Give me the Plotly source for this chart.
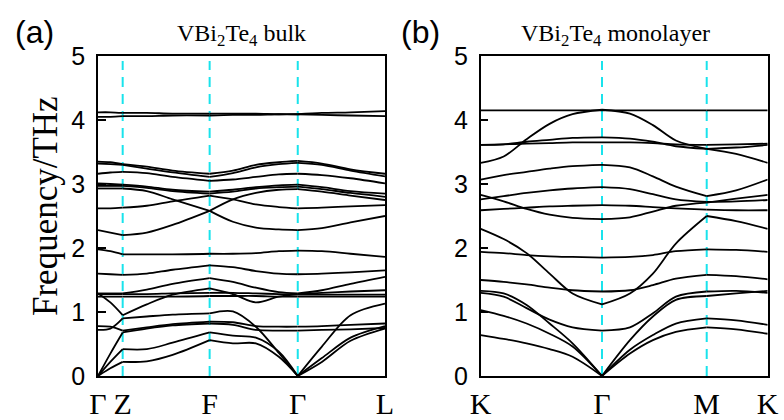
import plotly.graph_objects as go

# ---------------- data: panel (a) VBi2Te4 bulk ----------------
ka = [0, 0.043, 0.086, 0.17, 0.26, 0.389, 0.47, 0.55, 0.63, 0.696, 0.78, 0.88, 1.0]
ka_sym_idx = [0, 2, 5, 9, 12]
ka_labels = ["Γ", "Z", "F", "Γ", "L"]

bulk_V2 = [4.12, 4.12, 4.11, 4.11, 4.10, 4.10, 4.10, 4.10, 4.09, 4.09, 4.11, 4.12, 4.14]
bulk_V1 = [4.05, 4.05, 4.06, 4.06, 4.07, 4.07, 4.08, 4.08, 4.09, 4.09, 4.08, 4.07, 4.06]
bulk_W1 = [3.35, 3.34, 3.31, 3.27, 3.21, 3.16, 3.21, 3.30, 3.34, 3.36, 3.32, 3.23, 3.16]
bulk_W2 = [3.32, 3.31, 3.30, 3.24, 3.18, 3.11, 3.17, 3.26, 3.31, 3.33, 3.30, 3.21, 3.12]
bulk_W3 = [3.16, 3.18, 3.19, 3.17, 3.11, 3.05, 3.07, 3.11, 3.15, 3.16, 3.14, 3.09, 3.01]
bulk_W4 = [3.01, 3.00, 2.99, 2.96, 2.91, 2.88, 2.91, 2.95, 2.98, 2.99, 2.95, 2.89, 2.85]
bulk_W5 = [2.97, 2.97, 2.97, 2.94, 2.89, 2.85, 2.88, 2.93, 2.95, 2.96, 2.92, 2.86, 2.80]
bulk_W6 = [2.93, 2.93, 2.93, 2.89, 2.76, 2.58, 2.41, 2.32, 2.29, 2.28, 2.31, 2.40, 2.50]
bulk_W7 = [2.62, 2.62, 2.63, 2.66, 2.73, 2.82, 2.76, 2.68, 2.64, 2.62, 2.63, 2.65, 2.67]
bulk_X1 = [2.28, 2.24, 2.20, 2.24, 2.36, 2.58, 2.76, 2.86, 2.91, 2.92, 2.88, 2.82, 2.75]
bulk_L1 = [1.98, 1.95, 1.90, 1.90, 1.90, 1.91, 1.91, 1.92, 1.95, 1.96, 1.95, 1.91, 1.86]
bulk_L2 = [1.60, 1.59, 1.58, 1.60, 1.66, 1.73, 1.70, 1.64, 1.60, 1.59, 1.60, 1.62, 1.65]
bulk_T = [1.29, 1.29, 1.29, 1.35, 1.44, 1.53, 1.47, 1.38, 1.31, 1.29, 1.34, 1.44, 1.55]
bulk_U = [1.28, 1.28, 1.28, 1.28, 1.29, 1.30, 1.30, 1.29, 1.28, 1.27, 1.27, 1.27, 1.27]
bulk_Vb = [1.24, 1.24, 1.24, 1.24, 1.24, 1.25, 1.25, 1.25, 1.24, 1.24, 1.24, 1.24, 1.24]
bulk_S = [1.29, 1.15, 0.95, 1.12, 1.27, 1.37, 1.28, 1.15, 1.24, 1.28, 1.30, 1.32, 1.34]
bulk_R = [0.72, 0.74, 0.90, 0.93, 0.96, 0.98, 1.01, 0.77, 0.36, 0.00, 0.46, 0.95, 1.13]
bulk_Q = [0.78, 0.77, 0.71, 0.76, 0.81, 0.85, 0.84, 0.78, 0.77, 0.77, 0.78, 0.80, 0.82]
bulk_P = [0.00, 0.35, 0.68, 0.74, 0.79, 0.82, 0.80, 0.72, 0.71, 0.71, 0.72, 0.73, 0.75]
bulk_A2 = [0.00, 0.22, 0.42, 0.42, 0.52, 0.68, 0.63, 0.60, 0.38, 0.00, 0.28, 0.60, 0.78]
bulk_A1 = [0.00, 0.12, 0.22, 0.23, 0.33, 0.56, 0.51, 0.51, 0.30, 0.00, 0.22, 0.55, 0.74]

bulk_bands = [bulk_V2, bulk_V1, bulk_W1, bulk_W2, bulk_W3, bulk_W4, bulk_W5, bulk_W6,
              bulk_W7, bulk_X1, bulk_L1, bulk_L2, bulk_T, bulk_U, bulk_Vb, bulk_S,
              bulk_R, bulk_Q, bulk_P, bulk_A2, bulk_A1]

# ---------------- data: panel (b) VBi2Te4 monolayer ----------------
kb = [0, 0.08, 0.16, 0.24, 0.32, 0.4226, 0.52, 0.60, 0.68, 0.7875, 0.89, 1.0]
kb_sym_idx = [0, 5, 9, 11]
kb_labels = ["K", "Γ", "M", "K"]

mono_T0 = [4.15, 4.15, 4.15, 4.15, 4.15, 4.15, 4.15, 4.15, 4.15, 4.15, 4.15, 4.15]
mono_C1 = [3.33, 3.43, 3.70, 3.94, 4.09, 4.16, 4.10, 3.92, 3.68, 3.55, 3.47, 3.33]
mono_F1 = [3.61, 3.62, 3.66, 3.69, 3.72, 3.73, 3.71, 3.66, 3.59, 3.55, 3.57, 3.61]
mono_F2 = [3.61, 3.62, 3.63, 3.64, 3.65, 3.65, 3.65, 3.64, 3.62, 3.61, 3.62, 3.63]
mono_G1 = [3.07, 3.14, 3.19, 3.24, 3.28, 3.30, 3.26, 3.12, 2.96, 2.81, 2.90, 3.07]
mono_G2 = [2.76, 2.81, 2.86, 2.90, 2.93, 2.95, 2.92, 2.84, 2.76, 2.72, 2.73, 2.75]
mono_G3 = [2.83, 2.73, 2.61, 2.52, 2.47, 2.45, 2.48, 2.57, 2.66, 2.71, 2.77, 2.83]
mono_G4 = [2.59, 2.61, 2.63, 2.65, 2.66, 2.67, 2.66, 2.64, 2.62, 2.60, 2.59, 2.59]
mono_G5 = [2.30, 2.14, 1.92, 1.60, 1.29, 1.12, 1.29, 1.60, 2.07, 2.50, 2.42, 2.30]
mono_G6 = [1.94, 1.92, 1.89, 1.87, 1.86, 1.85, 1.86, 1.89, 1.95, 1.98, 1.97, 1.94]
mono_G7 = [1.50, 1.47, 1.43, 1.38, 1.34, 1.32, 1.34, 1.42, 1.52, 1.58, 1.56, 1.51]
mono_O1 = [1.30, 1.24, 1.06, 0.88, 0.76, 0.71, 0.76, 0.98, 1.24, 1.32, 1.33, 1.30]
mono_B3 = [1.33, 1.29, 1.11, 0.82, 0.51, 0.00, 0.56, 0.93, 1.19, 1.25, 1.29, 1.33]
mono_B2 = [1.03, 0.94, 0.82, 0.66, 0.46, 0.00, 0.41, 0.64, 0.82, 0.90, 0.87, 0.80]
mono_B1 = [0.64, 0.58, 0.51, 0.42, 0.30, 0.00, 0.35, 0.56, 0.69, 0.76, 0.73, 0.66]

mono_bands = [mono_T0, mono_C1, mono_F1, mono_F2, mono_G1, mono_G2, mono_G3, mono_G4,
              mono_G5, mono_G6, mono_G7, mono_O1, mono_B3, mono_B2, mono_B1]

freq_ticks = [0, 1, 2, 3, 4, 5]

# ---------------- figure ----------------
W, H = 784, 420
def px(x): return x / W
def py(y): return 1 - y / H

SERIF = "Liberation Serif"
SANS = "Liberation Sans"
CYAN = "#19E3EC"

fig = go.Figure()

def segmented(xs, ys, sym_idx):
    X, Y = [], []
    for a, b in zip(sym_idx[:-1], sym_idx[1:]):
        X += xs[a:b + 1] + [None]
        Y += ys[a:b + 1] + [None]
    return X, Y

for band in bulk_bands:
    X, Y = segmented(ka, band, ka_sym_idx)
    fig.add_trace(go.Scatter(x=X, y=Y, mode="lines", xaxis="x", yaxis="y",
                             line=dict(color="black", width=1.8, shape="spline", smoothing=0.9),
                             connectgaps=False, showlegend=False, hoverinfo="skip"))
for band in mono_bands:
    X, Y = segmented(kb, band, kb_sym_idx)
    fig.add_trace(go.Scatter(x=X, y=Y, mode="lines", xaxis="x2", yaxis="y2",
                             line=dict(color="black", width=1.8, shape="spline", smoothing=0.9),
                             connectgaps=False, showlegend=False, hoverinfo="skip"))

shapes = []
for i in ka_sym_idx[1:-1]:
    shapes.append(dict(type="line", xref="x", yref="y", x0=ka[i], x1=ka[i], y0=0, y1=4.92,
                       line=dict(color=CYAN, width=2, dash="10px,7px"), layer="below"))
for i in kb_sym_idx[1:-1]:
    shapes.append(dict(type="line", xref="x2", yref="y2", x0=kb[i], x1=kb[i], y0=0, y1=4.92,
                       line=dict(color=CYAN, width=2, dash="10px,7px"), layer="below"))

ydom = [py(376), py(56)]
common_y = dict(range=[0, 5], tickvals=freq_ticks, ticks="inside", ticklen=8, tickwidth=1.5,
                tickcolor="black", showline=True, linecolor="black", linewidth=1.5, mirror=True,
                showgrid=False, zeroline=False, tickfont=dict(family=SANS, size=25, color="black"),
                ticklabelstandoff=6, domain=ydom, automargin=False)
common_x = dict(range=[0, 1], ticks="", showline=True, linecolor="black", linewidth=1.5,
                mirror=True, showgrid=False, zeroline=False, automargin=False,
                tickfont=dict(family=SERIF, size=30, color="black"))

def note(text, x, y, family, size, angle=0):
    return dict(text=text, x=px(x), y=py(y), xref="paper", yref="paper", showarrow=False,
                xanchor="center", yanchor="middle", textangle=angle,
                font=dict(family=family, size=size, color="black"))

fig.update_layout(
    width=W, height=H, margin=dict(l=0, r=0, t=0, b=0, pad=0, autoexpand=False),
    paper_bgcolor="white", plot_bgcolor="white",
    xaxis=dict(common_x, domain=[px(98), px(385)], anchor="y",
               tickvals=[ka[i] for i in ka_sym_idx], ticktext=ka_labels),
    yaxis=dict(common_y, anchor="x"),
    xaxis2=dict(common_x, domain=[px(480.7), px(767.7)], anchor="y2",
                tickvals=[kb[i] for i in kb_sym_idx], ticktext=kb_labels),
    yaxis2=dict(common_y, anchor="x2"),
    shapes=shapes,
    annotations=[
        note("(a)", 34, 32, SANS, 32),
        note("(b)", 420, 32, SANS, 32),
        note("VBi<sub>2</sub>Te<sub>4</sub> bulk", 241, 35, SERIF, 24),
        note("VBi<sub>2</sub>Te<sub>4</sub> monolayer", 615, 35, SERIF, 24),
        note("Frequency/THz", 45, 206, SERIF, 35, angle=-90),
    ],
)

fig.write_html("out.html", config={"displayModeBar": False},
               post_script="document.body.style.margin='0px';")
